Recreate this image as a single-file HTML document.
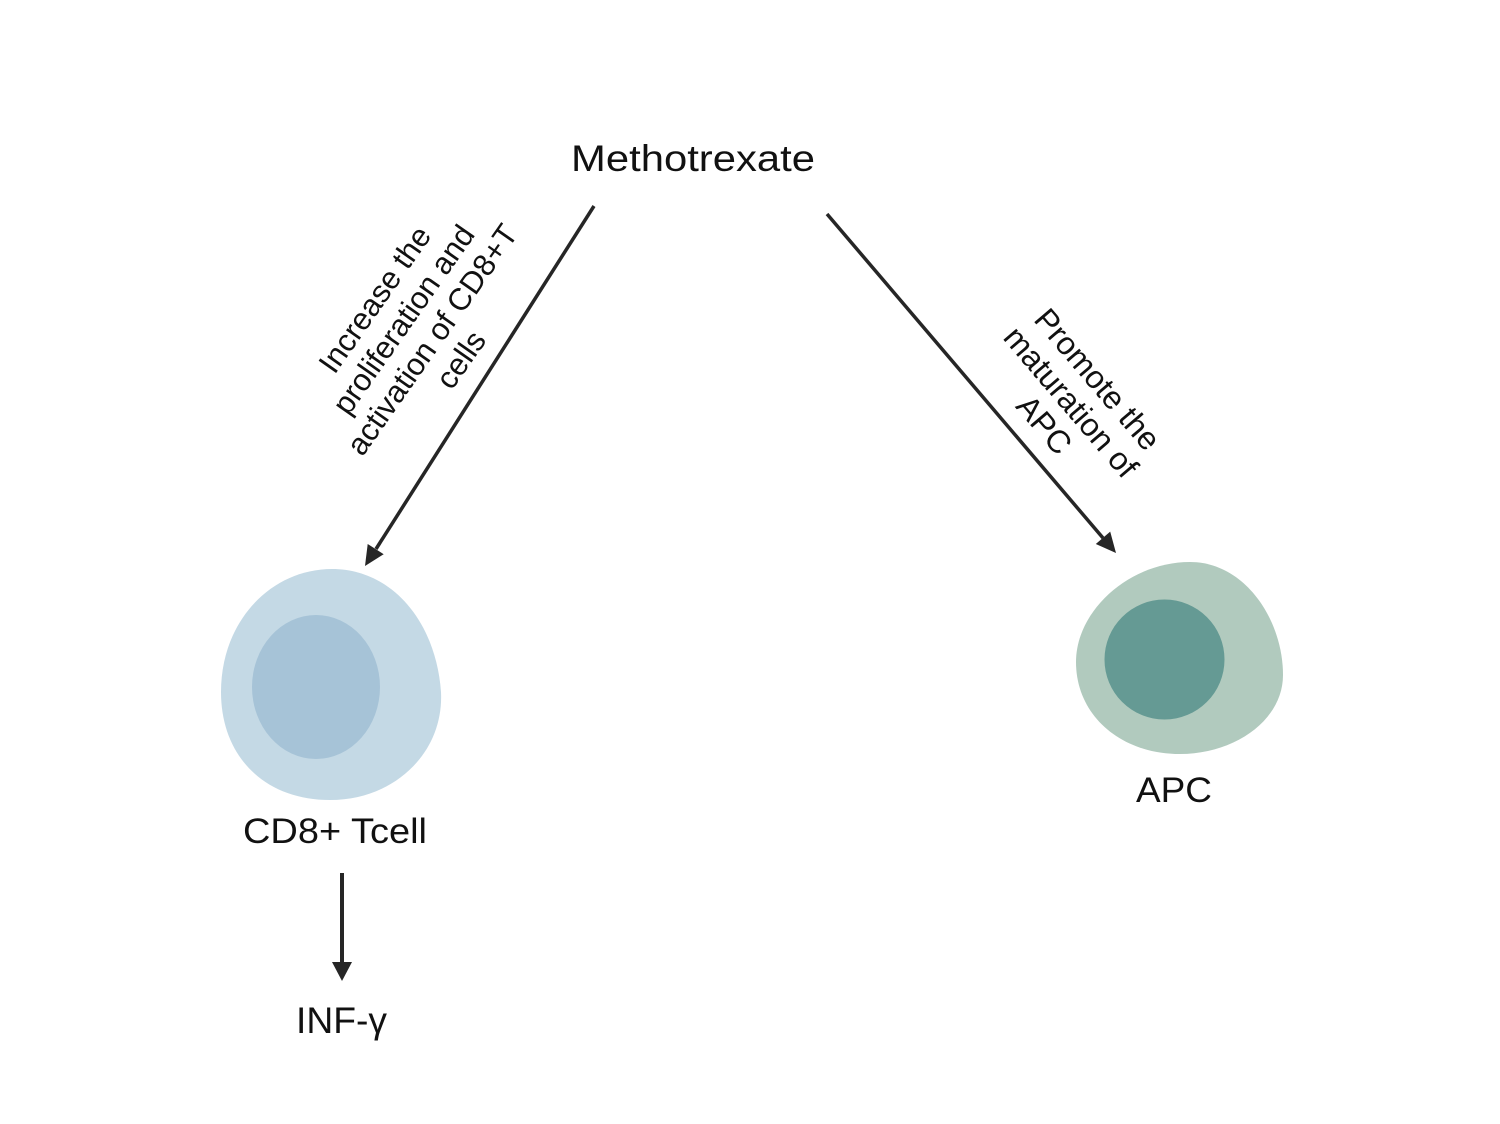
<!DOCTYPE html>
<html>
<head>
<meta charset="utf-8">
<style>
  html, body { margin: 0; padding: 0; background: #ffffff; }
  svg { display: block; }
  text { font-family: "Liberation Sans", Arial, sans-serif; fill: #111111; }
</style>
</head>
<body>
<svg width="1500" height="1124" viewBox="0 0 1500 1124" xmlns="http://www.w3.org/2000/svg">
  <rect x="0" y="0" width="1500" height="1124" fill="#ffffff"/>

  <!-- Title -->
  <text x="571" y="171" font-size="37" textLength="244" lengthAdjust="spacingAndGlyphs">Methotrexate</text>

  <!-- Left arrow -->
  <line x1="594" y1="206" x2="376" y2="549" stroke="#262626" stroke-width="3.5"/>
  <polygon points="365,566 383.7,554.2 367.7,544" fill="#262626"/>

  <!-- Right arrow -->
  <line x1="827" y1="214" x2="1103" y2="538" stroke="#262626" stroke-width="3.5"/>
  <polygon points="1116,553 1095.8,544 1110.2,531.6" fill="#262626"/>

  <!-- Down arrow -->
  <line x1="342" y1="873" x2="342" y2="964" stroke="#262626" stroke-width="4"/>
  <polygon points="332,962 352,962 342,981" fill="#262626"/>

  <!-- Left rotated label -->
  <g transform="translate(417,329) rotate(-55)" font-size="31" text-anchor="middle">
    <text x="0" y="-41">Increase the</text>
    <text x="0" y="-6">proliferation and</text>
    <text x="0" y="29">activation of CD8+T</text>
    <text x="0" y="64">cells</text>
  </g>

  <!-- Right rotated label -->
  <g transform="translate(1071,402) rotate(49.5)" font-size="32" text-anchor="middle">
    <text x="0" y="-24">Promote the</text>
    <text x="0" y="11">maturation of</text>
    <text x="0" y="46">APC</text>
  </g>

  <!-- CD8+ T cell -->
  <path d="M332,569 C392,569 436,622 441,692 C444,752 395,800 330,800 C265,800 221,757 221,692 C221,620 272,569 332,569 Z" fill="#c4d9e5"/>
  <ellipse cx="316" cy="687" rx="64" ry="72" fill="#a6c3d7"/>
  <text x="243" y="843" font-size="35" textLength="184" lengthAdjust="spacingAndGlyphs">CD8+ Tcell</text>

  <!-- INF-gamma -->
  <text x="296" y="1033" font-size="37" textLength="91" lengthAdjust="spacingAndGlyphs">INF-γ</text>

  <!-- APC cell -->
  <path d="M1190,562 C1245,562 1283,620 1283,675 C1283,720 1235,754 1180,754 C1120,754 1076,715 1076,662 C1076,610 1130,562 1190,562 Z" fill="#b1cabe"/>
  <ellipse cx="1164.5" cy="659.5" rx="60" ry="60" fill="#659a94"/>
  <text x="1136" y="802" font-size="35" textLength="76" lengthAdjust="spacingAndGlyphs">APC</text>
</svg>
</body>
</html>
